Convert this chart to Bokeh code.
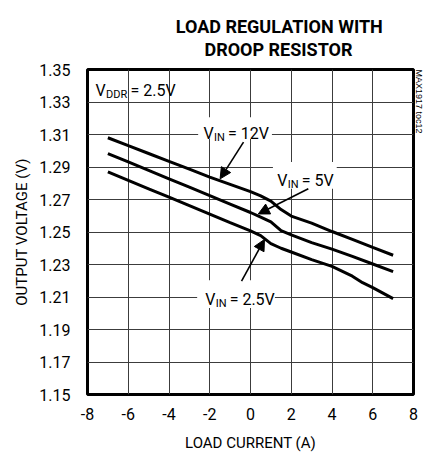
import math
from bokeh.plotting import figure
from bokeh.layouts import column
from bokeh.models import (Range1d, FixedTicker, PrintfTickFormatter, Label, Arrow,
                          NormalHead, BoxAnnotation, Title, LinearAxis)
from bokeh.embed import file_html
from bokeh.resources import INLINE

# ---------------- data ----------------
load_current = [-7, -6, -5, -4, -3, -2, -1, 0, 0.5, 1.0, 1.5, 2.0, 3, 4, 5, 6, 7]
vout_12v = [1.3080, 1.3031, 1.2983, 1.2935, 1.2887, 1.2838, 1.2793, 1.2748, 1.2722,
            1.2690, 1.2638, 1.2598, 1.2555, 1.2503, 1.2455, 1.2405, 1.2357]
vout_5v = [1.2983, 1.2931, 1.2879, 1.2827, 1.2776, 1.2724, 1.2672, 1.2620, 1.2592,
           1.2562, 1.2508, 1.2482, 1.2435, 1.2395, 1.2350, 1.2303, 1.2256]
load_current_2v5 = [-7, -6, -5, -4, -3, -2, -1, 0, 0.5, 1.0, 1.5, 2.0, 3, 4, 5, 5.5, 6, 7]
vout_2v5 = [1.2870, 1.2818, 1.2766, 1.2714, 1.2662, 1.2610, 1.2558, 1.2507, 1.2478,
            1.2428, 1.2400, 1.2377, 1.2330, 1.2288, 1.2228, 1.2188, 1.2158, 1.2090]

x_ticks = [-8, -6, -4, -2, 0, 2, 4, 6, 8]
y_ticks = [1.15, 1.17, 1.19, 1.21, 1.23, 1.25, 1.27, 1.29, 1.31, 1.33, 1.35]

title_lines = ["LOAD REGULATION WITH", "DROOP RESISTOR"]
x_label = "LOAD CURRENT (A)"
y_label = "OUTPUT VOLTAGE (V)"
corner_note = "MAX1917 toc12"

# title placement inside the header strip (pixels from its top-left)
title_pos = [(250, 26.0), (249, 49.0)]

# annotation anchors (data coordinates)
label_12v = dict(x=-2.309, y=1.3107, sub="IN", rest="= 12V")
label_5v = dict(x=1.311, y=1.2815, sub="IN", rest="= 5V")
label_2v5 = dict(x=-2.226, y=1.2087, sub="IN", rest="= 2.5V")
label_vddr = dict(x=-7.609, y=1.3372, sub="DDR", rest="= 2.5V")

box_12v = dict(left=-2.569, right=1.052, bottom=1.3072, top=1.3206)
box_5v = dict(left=1.101, right=4.232, bottom=1.2766, top=1.2931)
box_2v5 = dict(left=-2.618, right=1.199, bottom=1.2032, top=1.2203)

arrow_12v = dict(x_start=-0.343, y_start=1.3053, x_end=-1.492, y_end=1.2827)
arrow_5v = dict(x_start=2.838, y_start=1.2766, x_end=0.382, y_end=1.2611)
arrow_2v5 = dict(x_start=-0.440, y_start=1.2197, x_end=0.685, y_end=1.2454)

ylabel_span = (1.1986, 1.2986)

FONT = "Roboto"
W, HEAD_H, TOTAL_H = 425, 58, 454
FRAME_TOP = 69  # page y of the plot frame's top edge

# ---------------- header strip with the two-line title ----------------
head = figure(width=W, height=HEAD_H, output_backend="svg", toolbar_location=None,
              title=None, x_range=Range1d(0, W), y_range=Range1d(HEAD_H, 0),
              min_border=0, min_border_left=0, min_border_right=0,
              min_border_top=0, min_border_bottom=0,
              x_axis_location=None, y_axis_location=None)
head.outline_line_color = None
head.background_fill_color = "white"
head.border_fill_color = "white"
head.grid.visible = False
for txt, (tx, ty) in zip(title_lines, title_pos):
    head.add_layout(Label(x=tx, y=ty, text=txt, text_font=FONT, text_font_style="bold",
                          text_font_size="18px", text_color="black",
                          text_align="center", text_baseline="alphabetic"))

# ---------------- main chart ----------------
p = figure(width=W, height=TOTAL_H - HEAD_H, output_backend="svg",
           toolbar_location=None, title=None,
           x_range=Range1d(-8, 8), y_range=Range1d(1.15, 1.35),
           min_border_left=87, min_border_right=11,
           min_border_top=FRAME_TOP - HEAD_H, min_border_bottom=58)
p.background_fill_color = "white"
p.border_fill_color = "white"
p.outline_line_color = "black"
p.outline_line_width = 3

for ax in (p.xaxis[0], p.yaxis[0]):
    ax.axis_line_color = None
    ax.major_tick_line_color = None
    ax.minor_tick_line_color = None
    ax.major_tick_out = 0
    ax.major_tick_in = 0
    ax.major_label_text_font = FONT
    ax.major_label_text_font_size = "16px"
    ax.major_label_text_color = "black"

p.xaxis.ticker = FixedTicker(ticks=x_ticks)
p.yaxis.ticker = FixedTicker(ticks=y_ticks)
p.xaxis.formatter = PrintfTickFormatter(format="%d")
p.yaxis.formatter = PrintfTickFormatter(format="%.2f")
p.xaxis.major_label_standoff = 13
p.yaxis.major_label_standoff = 17

p.xaxis.axis_label = x_label
p.xaxis.axis_label_text_font = FONT
p.xaxis.axis_label_text_font_size = "15px"
p.xaxis.axis_label_text_font_style = "normal"
p.xaxis.axis_label_text_color = "black"
p.xaxis.axis_label_standoff = 11

# y label on its own tick-less axis so it can be centred where the reference has it
ylab_axis = LinearAxis(axis_label=y_label, bounds=ylabel_span,
                       ticker=FixedTicker(ticks=[]), axis_line_color=None,
                       major_tick_line_color=None, minor_tick_line_color=None,
                       major_tick_in=0, major_tick_out=0, major_label_standoff=0,
                       axis_label_standoff=6, axis_label_text_font=FONT,
                       axis_label_text_font_size="15px",
                       axis_label_text_font_style="normal",
                       axis_label_text_color="black")
p.add_layout(ylab_axis, "left")

p.xgrid.ticker = FixedTicker(ticks=x_ticks)
p.ygrid.ticker = FixedTicker(ticks=y_ticks)
for g in (p.xgrid[0], p.ygrid[0]):
    g.grid_line_color = "#3c3c3c"
    g.grid_line_width = 1
    g.grid_line_alpha = 1.0

# small vertical reference code at the right edge
p.add_layout(Title(text=corner_note, align="left", text_font="Liberation Sans",
                   text_font_style="normal", text_font_size="9px",
                   text_color="black", standoff=0, offset=0), "right")

# curves
p.line(load_current, vout_12v, line_color="black", line_width=3)
p.line(load_current, vout_5v, line_color="black", line_width=3)
p.line(load_current_2v5, vout_2v5, line_color="black", line_width=3)

# white boxes behind the series labels
for b in (box_12v, box_5v, box_2v5):
    p.add_layout(BoxAnnotation(left=b["left"], right=b["right"], bottom=b["bottom"],
                               top=b["top"], fill_color="white", fill_alpha=1.0,
                               line_color=None))

# arrows
for a in (arrow_12v, arrow_5v, arrow_2v5):
    p.add_layout(Arrow(end=NormalHead(size=11, fill_color="black", line_color="black",
                                      line_width=1),
                       x_start=a["x_start"], y_start=a["y_start"],
                       x_end=a["x_end"], y_end=a["y_end"],
                       line_color="black", line_width=1.6))


def sub_label(d, sub_dx, rest_dx, size=16, sub_size=11):
    common = dict(x=d["x"], y=d["y"], text_font=FONT, text_color="black",
                  text_baseline="alphabetic", text_align="left")
    p.add_layout(Label(text="V", text_font_size=f"{size}px", **common))
    p.add_layout(Label(text=d["sub"], text_font_size=f"{sub_size}px",
                       x_offset=sub_dx, y_offset=-4, **common))
    p.add_layout(Label(text=d["rest"], text_font_size=f"{size}px",
                       x_offset=rest_dx, **common))


sub_label(label_12v, 10.5, 24.5)
sub_label(label_5v, 10.5, 24.5)
sub_label(label_2v5, 10.5, 24.5)
sub_label(label_vddr, 10.5, 35.0)

layout = column(head, p, spacing=0)
open("out.html", "w").write(file_html(layout, INLINE))
